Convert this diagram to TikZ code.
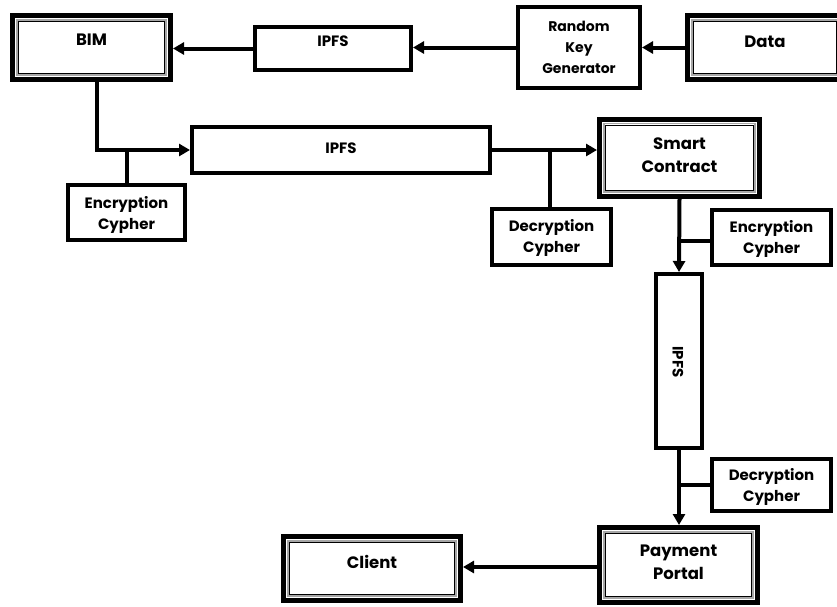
\documentclass[tikz,border=0pt]{standalone}
\usepackage{fontspec}
\setmainfont{Poppins}
\usetikzlibrary{arrows.meta}
\tikzset{
  sbox/.style={draw=black, line width=4pt, fill=white, inner sep=0pt, rectangle},
  dbox/.style={draw=black, line width=5pt, fill=white, inner sep=0pt, rectangle,
    path picture={
      \draw[gray!70, line width=1.6pt] ([shift={(4.3pt,4.3pt)}]path picture bounding box.south west) rectangle ([shift={(-4.3pt,-4.3pt)}]path picture bounding box.north east);
      \draw[black, line width=0.9pt] ([shift={(6pt,6pt)}]path picture bounding box.south west) rectangle ([shift={(-6pt,-6pt)}]path picture bounding box.north east);
    }},
  lbl/.style={font=\bfseries\fontsize{15}{20.5}\selectfont, align=center, inner sep=0pt},
  biglbl/.style={font=\bfseries\fontsize{16.5}{23}\selectfont, align=center, inner sep=0pt},
  conn/.style={line width=4pt, draw=black},
  arr/.style={conn, -{Triangle[length=11pt,width=12pt]}},
}
\begin{document}
\begin{tikzpicture}[x=1pt,y=-1pt]
\useasboundingbox (0,0) rectangle (837,606);
\clip (0,0) rectangle (837,606);
\fill[white] (0,0) rectangle (837,606);
% boxes (outer extents minus line width)
\node[dbox, minimum width=158pt, minimum height=64pt] (bim) at (91.5,47.5) {};
\node[biglbl] at (91.5,40) {BIM};
\node[sbox, minimum width=156pt, minimum height=43pt] (ipfsa) at (333,48.5) {};
\node[lbl] at (333,41) {IPFS};
\node[sbox, minimum width=122pt, minimum height=81pt, align=center, font=\bfseries\fontsize{14}{21}\selectfont] (rkg) at (579,47.5) {Random\\Key\\Generator};
\node[dbox, minimum width=155pt, minimum height=64pt] (data) at (765,47.5) {};
\node[biglbl] at (765,42) {Data};
\node[sbox, minimum width=298pt, minimum height=46pt] (ipfsb) at (341,150) {};
\node[lbl] at (341,148) {IPFS};
\node[sbox, minimum width=117pt, minimum height=55pt] (enca) at (126.5,212.5) {};
\node[lbl] at (126.5,215) {Encryption\\Cypher};
\node[dbox, minimum width=160pt, minimum height=77pt] (sc) at (679.5,157.5) {};
\node[biglbl] at (679.5,155) {Smart\\Contract};
\node[sbox, minimum width=119pt, minimum height=56pt] (deca) at (551.5,237) {};
\node[lbl] at (551.5,238) {Decryption\\Cypher};
\node[sbox, minimum width=119pt, minimum height=55pt] (encb) at (771.5,237.5) {};
\node[lbl] at (771.5,239) {Encryption\\Cypher};
\node[sbox, minimum width=46pt, minimum height=174pt] (ipfsc) at (679,361) {};
\node[lbl, rotate=-90] at (678,362) {IPFS};
\node[sbox, minimum width=119pt, minimum height=52pt] (decb) at (771.5,485) {};
\node[lbl] at (771.5,487) {Decryption\\Cypher};
\node[dbox, minimum width=158pt, minimum height=75pt] (pp) at (678.5,565) {};
\node[biglbl] at (678.5,562) {Payment\\Portal};
\node[dbox, minimum width=177pt, minimum height=64pt] (client) at (372,568.5) {};
\node[biglbl] at (372,562) {Client};
% connectors
\draw[arr] (data.west) -- (data.west -| rkg.east);
\draw[arr] (rkg.west) -- (rkg.west -| ipfsa.east);
\draw[arr] (ipfsa.west) -- (ipfsa.west -| bim.east);
\coordinate (bimdown) at ([xshift=5pt]bim.south);
\draw[arr] (bimdown) |- (ipfsb.west);
\draw[conn] (enca.north) -- (enca.north |- ipfsb.west);
\draw[arr] (ipfsb.east) -- (ipfsb.east -| sc.west);
\draw[conn] ([xshift=-2pt]deca.north) -- ([xshift=-2pt]deca.north |- ipfsb.east);
\draw[arr] (sc.south) -- (ipfsc.north);
\draw[conn] ([yshift=-3pt]encb.west) -- ([yshift=-3pt]encb.west -| sc.south);
\draw[arr] (ipfsc.south) -- (ipfsc.south |- pp.north);
\draw[conn] (decb.west) -- (decb.west -| ipfsc.south);
\draw[arr] ([yshift=-2pt]pp.west) -- ([yshift=-2pt]pp.west -| client.east);
\end{tikzpicture}
\end{document}
